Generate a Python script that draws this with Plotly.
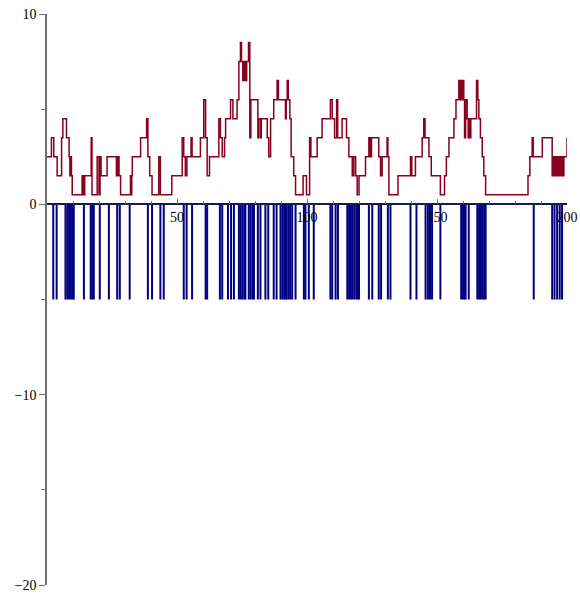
import plotly.graph_objects as go

# Red step series: breakpoints (x, level)
walk_x = [0, 1.7, 2.6, 3.9, 5.6, 6.1, 7.5, 8.5, 8.8, 9.2, 9.4, 9.7, 13.5, 14.0, 14.5,
          17.0, 17.3, 19.3, 20.0, 20.4, 20.8, 23.1, 26.7, 27.2, 27.7, 28.3, 32.1, 32.4,
          32.6, 32.8, 36.0, 38.3, 38.8, 39.5, 40.4, 43.0, 43.6, 48.0, 52.0, 52.6, 53.2,
          53.8, 55.4, 55.8, 59.0, 60.3, 61.0, 61.6, 62.5, 66.1, 66.7, 67.4, 68.3, 68.7,
          70.6, 71.5, 73.1, 73.8, 74.4, 74.8, 75.3, 75.8, 76.3, 76.8, 77.5, 78.0, 78.4,
          81.1, 81.4, 82.1, 82.4, 84.7, 85.3, 86.0, 87.2, 88.5, 89.0,
          91.7, 92.0, 92.4, 92.8, 93.4, 93.9, 94.9, 95.6, 98.5, 99.8, 101.0, 101.5,
          103.9, 105.8, 109.0, 109.7, 110.6, 111.4, 111.8, 113.5, 115.2, 116.1, 117.4,
          118.0, 118.7, 119.3, 120.0, 122.5, 123.8, 124.3, 124.8, 127.6, 128.3, 128.9,
          130.8, 131.1, 131.5, 135.0, 139.8, 140.3, 141.7, 144.3, 144.9, 145.4, 146.9,
          147.8, 151.3, 152.9, 153.6, 154.6, 156.5, 157.3, 158.4, 158.8, 159.1, 159.5,
          159.8, 160.3, 160.6, 161.0, 161.6, 162.0, 162.3, 162.7, 163.0, 165.2, 165.7,
          166.1, 166.7, 167.4, 168.0, 168.7, 185.0, 185.7, 186.6, 187.0, 190.5, 194.3,
          194.8, 195.3, 195.8, 196.3, 196.8, 197.3, 197.8, 198.3, 198.8, 199.4, 200]
walk_y = [2.5, 3.5, 2.5, 1.5, 3.5, 4.5, 3.5, 2.5, 1.5, 2.5, 1.5, 0.5, 1.5, 0.5, 1.5,
          3.5, 0.5, 2.5, 0.5, 2.5, 1.5, 2.5, 1.5, 2.5, 1.5, 0.5, 1.5, 0.5,
          1.5, 2.5, 3.5, 4.5, 2.5, 1.5, 0.5, 2.5, 0.5, 1.5, 3.5, 2.5, 1.5,
          2.5, 3.5, 2.5, 3.5, 5.5, 3.5, 1.5, 2.5, 4.5, 3.5, 2.5, 3.5, 4.5,
          5.5, 4.5, 5.5, 7.5, 8.5, 7.5, 6.5, 7.5, 6.5, 7.5, 8.5, 3.5, 5.5,
          3.5, 4.5, 3.5, 4.5, 3.5, 2.5, 4.5, 5.5, 6.5, 5.5,
          4.5, 5.5, 6.5, 5.5, 4.5, 2.5, 1.5, 0.5, 1.5, 0.5, 3.5, 2.5,
          3.5, 4.5, 5.5, 4.5, 3.5, 5.5, 3.5, 4.5, 3.5, 2.5, 1.5,
          2.5, 1.5, 0.5, 1.5, 2.5, 3.5, 2.5, 3.5, 2.5, 1.5, 2.5,
          3.5, 2.5, 0.5, 1.5, 2.5, 1.5, 2.5, 3.5, 4.5, 3.5, 2.5,
          1.5, 0.5, 1.5, 2.5, 3.5, 4.5, 5.5, 6.5, 5.5, 6.5, 5.5,
          6.5, 5.5, 3.5, 5.5, 4.5, 3.5, 4.5, 3.5, 4.5, 6.5, 5.5,
          4.5, 3.5, 2.5, 1.5, 0.5, 1.5, 2.5, 3.5, 2.5, 3.5, 1.5,
          2.5, 1.5, 2.5, 1.5, 2.5, 1.5, 2.5, 1.5, 2.5, 2.5, 3.5]

# Blue event positions (vertical lines from 0 down to event_value)
event_x = [2.4, 3.7, 7.1, 7.8, 8.5, 9.2, 9.9, 10.3, 14.2, 16.8, 17.4, 18.0, 20.3,
           23.8, 27, 28, 31.8, 38.8, 40.4, 43.6, 44.9, 52.6, 53.7, 55.8, 61, 61.6,
           66.5, 67.4, 69.6, 70.8, 71.9, 73.8, 74.5, 75.2, 75.9, 76.3, 77.6, 78.3,
           79.0, 79.6, 81.1, 82.1, 84, 85.1, 87.2, 88.3, 89.8, 90.5, 91.2, 91.7,
           92.1, 92.8, 93.5, 94.3, 95.6, 98.8, 99.4, 100.7, 102.6, 109, 109.7, 111,
           111.9, 115.5, 116.2, 116.9, 117.6, 118.3, 119.0, 119.6, 120.0, 123.8,
           125.1, 127.6, 128.5, 131.1, 132.1, 139.8, 142.1, 145.6, 146.5, 147.3,
           148.1, 151.3, 159.3, 160.0, 160.6, 161.0, 162.2, 165.5, 166.2, 166.9,
           167.6, 168.2, 168.7, 187.2, 194.3, 195.2, 196.2, 197.2, 198.1]
event_value = -5

y_ticks = [-20, -10, 0, 10]
y_ticktext = ["\u221220", "\u221210", "0", "10"]
x_ticks = [50, 100, 150, 200]

ev_x, ev_y = [], []
for v in event_x:
    ev_x += [v, v, None]
    ev_y += [0, event_value, None]

fig = go.Figure()
fig.add_trace(go.Scatter(x=ev_x, y=ev_y, mode="lines",
                         line=dict(color="rgb(0,0,128)", width=2),
                         hoverinfo="skip", showlegend=False))
fig.add_trace(go.Scatter(x=walk_x, y=walk_y, mode="lines", line_shape="hv",
                         line=dict(color="rgb(135,0,30)", width=1.5),
                         showlegend=False))

axis_color = "#707070"
font = dict(family="Liberation Serif", size=14, color="black")
fig.update_layout(
    width=580, height=595,
    margin=dict(l=47, r=13, t=14, b=10, autoexpand=False),
    paper_bgcolor="white", plot_bgcolor="white",
    xaxis=dict(range=[0, 200], anchor="free", position=2/3, side="bottom",
               automargin=False, ticklabeloverflow="allow",
               showgrid=False, zeroline=False, showline=True,
               linecolor="rgb(20,25,90)",
               linewidth=1.5, tickvals=x_ticks, ticks="inside", ticklen=5,
               tickcolor=axis_color, tickfont=font,
               minor=dict(dtick=10, tick0=0, ticks="inside", ticklen=3,
                          tickcolor=axis_color)),
    yaxis=dict(range=[-20, 10], automargin=False,
               showgrid=False, zeroline=False, showline=True,
               linecolor=axis_color, linewidth=1.5, tickvals=y_ticks,
               ticktext=y_ticktext, ticks="outside", ticklen=6,
               tickcolor=axis_color, tickfont=font,
               minor=dict(dtick=5, tick0=0, ticks="outside", ticklen=4,
                          tickcolor=axis_color)),
)

fig.write_html("out.html", config={"displayModeBar": False},
               post_script="document.body.style.margin='0';"
                           "document.body.style.overflow='hidden';")
